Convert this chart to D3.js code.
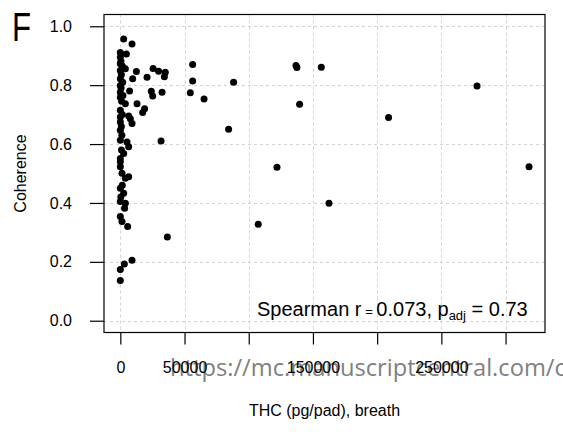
<!DOCTYPE html>
<html>
<head>
<meta charset="utf-8">
<script src="https://cdn.jsdelivr.net/npm/d3@7"></script>
<style>
  html, body { margin: 0; padding: 0; background: #fff; }
  svg { display: block; }
  text { font-family: "Liberation Sans", Arial, Helvetica, sans-serif; }
  text.wm { font-family: "Open Sans", "Noto Sans", sans-serif; }
</style>
</head>
<body>
<svg id="chart" width="563" height="432"></svg>
<script>
// ---- data ----
const thc = [
  136800, 137500, 156500, 139600, 208900, 277800, 122000, 318300, 162500, 107400,
  56300, 56300, 88200, 54500, 65200, 84300, 31700, 36600,
  2600, 9100, 0, 4700, 0, 0, 3900, 0, 12500, 25500, 29800, 35000, 34300, 20800,
  9600, 0, 0, 7200, 0, 24100, 25200, 32500, 0, 3900, 13000, 18900, 17400, 0, 0,
  6500, 7800, 0, 9100, 0, 0, 5200, 6500, 2600, 0, 0, 0, 1300, 6500, 3900, 0,
  2600, 0, 3900, 3300, 0, 1300, 5700, 9100, 3100, 0, 0,
  500, 1500, 800, 1800, 600, 2000, 1000, 1500, 800, 1200, 900, 1500, 400
];
const coherence = [
  0.867, 0.860, 0.861, 0.735, 0.690, 0.797, 0.521, 0.523, 0.399, 0.328,
  0.870, 0.814, 0.810, 0.774, 0.753, 0.650, 0.610, 0.284,
  0.957, 0.940, 0.911, 0.906, 0.895, 0.873, 0.856, 0.850, 0.846, 0.857, 0.847, 0.844, 0.829, 0.827,
  0.822, 0.822, 0.799, 0.780, 0.776, 0.779, 0.763, 0.776, 0.759, 0.737, 0.737, 0.720, 0.707, 0.715, 0.692,
  0.695, 0.686, 0.675, 0.670, 0.647, 0.613, 0.607, 0.591, 0.568, 0.551, 0.540, 0.523, 0.501, 0.489, 0.484, 0.450,
  0.433, 0.405, 0.399, 0.382, 0.354, 0.337, 0.320, 0.205, 0.193, 0.174, 0.137,
  0.880, 0.865, 0.835, 0.810, 0.790, 0.765, 0.745, 0.700, 0.660, 0.630, 0.580, 0.460, 0.420
];
const xTicks = [0, 50000, 100000, 150000, 200000, 250000, 300000];
const xTickLabels = ["0", "50000", "", "150000", "", "250000", ""];
const yTicks = [0, 0.2, 0.4, 0.6, 0.8, 1.0];
const yTickLabels = ["0.0", "0.2", "0.4", "0.6", "0.8", "1.0"];
const panelLabel = "F";
const xTitle = "THC (pg/pad), breath";
const yTitle = "Coherence";
const statParts = ["Spearman ", "r", " = ", "0.073, p", "adj", " = ", "0.73"];
const watermark = "https://mc.manuscriptcentral.com/c";

// ---- layout ----
const box = { left: 104, right: 545, top: 14.5, bottom: 332.5 };
const xMax = 318000;
const x = d3.scaleLinear().domain([-0.04 * xMax, 1.04 * xMax]).range([box.left, box.right]);
const y = d3.scaleLinear().domain([-0.04, 1.04]).range([box.bottom, box.top]);

const svg = d3.select("#chart");

// watermark, drawn underneath the axis labels
const wm = svg.append("text").attr("class", "wm").attr("x", 170).attr("y", 376)
  .attr("font-size", 23)
  .attr("fill", "#808080").text(watermark);
const wmLen = wm.node().getComputedTextLength();
if (wmLen > 0) wm.attr("font-size", 23 * 396 / wmLen);

// grid
const grid = svg.append("g").attr("stroke", "#d3d3d3").attr("stroke-width", 1).attr("stroke-dasharray", "3,3");
grid.selectAll("line.v").data(xTicks).join("line")
  .attr("x1", d => Math.round(x(d)) + 0.5).attr("x2", d => Math.round(x(d)) + 0.5)
  .attr("y1", box.top).attr("y2", box.bottom);
grid.selectAll("line.h").data(yTicks).join("line")
  .attr("y1", d => Math.round(y(d)) + 0.5).attr("y2", d => Math.round(y(d)) + 0.5)
  .attr("x1", box.left).attr("x2", box.right);

// points
svg.append("g").selectAll("circle").data(thc.map((v, i) => [v, coherence[i]])).join("circle")
  .attr("cx", d => x(d[0])).attr("cy", d => y(d[1])).attr("r", 3.5)
  .attr("fill", "#000");

// box
svg.append("rect")
  .attr("x", box.left).attr("y", box.top)
  .attr("width", box.right - box.left).attr("height", box.bottom - box.top)
  .attr("fill", "none").attr("stroke", "#000").attr("stroke-width", 1.2);

// axes
const xAxis = svg.append("g").attr("transform", `translate(0,${box.bottom})`)
  .call(d3.axisBottom(x).tickValues(xTicks).tickFormat((d, i) => xTickLabels[i]).tickSize(12).tickPadding(17));
xAxis.select(".domain").remove();
xAxis.selectAll("line").attr("stroke", "#000").attr("stroke-width", 1.2);
xAxis.selectAll("text").attr("font-size", 16).attr("fill", "#000");

const yAxis = svg.append("g").attr("transform", `translate(${box.left},0)`)
  .call(d3.axisLeft(y).tickValues(yTicks).tickFormat((d, i) => yTickLabels[i]).tickSize(14).tickPadding(18));
yAxis.select(".domain").remove();
yAxis.selectAll("line").attr("stroke", "#000").attr("stroke-width", 1.2);
yAxis.selectAll("text").attr("font-size", 16).attr("fill", "#000");

// titles
svg.append("text").attr("x", (box.left + box.right) / 2).attr("y", 416)
  .attr("text-anchor", "middle").attr("font-size", 16).text(xTitle);
svg.append("text").attr("transform", `translate(26,${(box.top + box.bottom) / 2}) rotate(-90)`)
  .attr("text-anchor", "middle").attr("font-size", 16).text(yTitle);
svg.append("text").attr("transform", "translate(12,41) scale(0.78,1)").attr("font-size", 40).text(panelLabel);

// statistic annotation
const st = svg.append("text").attr("x", 257).attr("y", 315.5).attr("font-size", 20);
st.append("tspan").text(statParts[0]);
st.append("tspan").attr("font-weight", 300).text(statParts[1]);
st.append("tspan").attr("font-size", 13).text(statParts[2]);
st.append("tspan").text(statParts[3]);
st.append("tspan").attr("font-size", 13).attr("dy", 4).text(statParts[4]);
st.append("tspan").attr("font-size", 20).attr("dy", -4).text(statParts[5]);
st.append("tspan").text(statParts[6]);
</script>
</body>
</html>
